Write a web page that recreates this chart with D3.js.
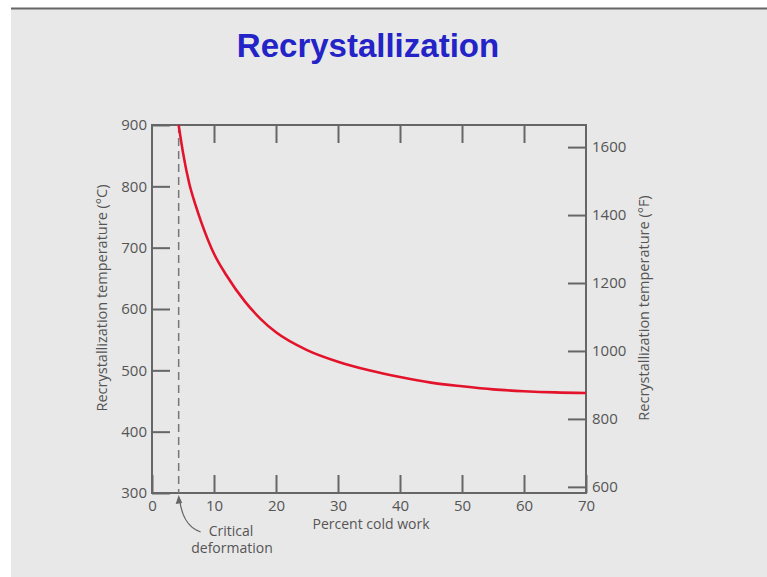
<html>
  <head>
    <meta charset="utf-8">
    <style>
      body { margin: 0; background: #fff; }
      .axis text {
        font-family: "Open Sans";
        font-size: 15px;
        fill: #555;
      }
      .axis line { stroke: #666; stroke-width: 2px; }
      .label {
        font-family: "Open Sans";
        font-size: 14px;
        fill: #555;
      }
    </style>
  </head>
<body>
  <svg width="767" height="577"></svg>
  <script src="https://d3js.org/d3.v7.min.js"></script>
  <script>
    // values
    var coldWork = [4.3, 5, 6, 7, 8, 10, 12, 15, 17.5, 20, 25, 30, 35, 40, 45, 50, 55, 60, 65, 70];
    var recrystTemp = [900, 855, 805, 770, 740, 690, 655, 612, 584, 562, 533, 514, 500, 489, 480, 474, 469, 466, 464, 463];
    var xTicks = [0, 10, 20, 30, 40, 50, 60, 70];
    var cTicks = [300, 400, 500, 600, 700, 800, 900];
    var fTicks = [600, 800, 1000, 1200, 1400, 1600];
    var criticalDeformation = 4.3;

    var svg = d3.select("svg");

    // slide background
    svg.append("rect").attr("x", 11).attr("y", 9).attr("width", 756).attr("height", 568).attr("fill", "#e8e8e8");
    svg.append("line").attr("x1", 11).attr("x2", 767).attr("y1", 8.5).attr("y2", 8.5)
      .attr("stroke", "#666").attr("stroke-width", 2);

    svg.append("text")
      .attr("x", 368).attr("y", 57)
      .attr("text-anchor", "middle")
      .style("font-family", "Liberation Sans, Arial")
      .style("font-weight", "bold")
      .style("font-size", "33px")
      .style("fill", "#2323c8")
      .text("Recrystallization");

    var plot = {left: 152, right: 586, top: 125, bottom: 493};

    var x = d3.scaleLinear().domain([0, 70]).range([plot.left, plot.right]);
    var y = d3.scaleLinear().domain([300, 900]).range([plot.bottom, plot.top]);
    var yF = d3.scaleLinear().domain([582, 1665]).range([plot.bottom, plot.top]);

    // frame
    svg.append("rect")
      .attr("x", plot.left).attr("y", plot.top)
      .attr("width", plot.right - plot.left).attr("height", plot.bottom - plot.top)
      .attr("fill", "none").attr("stroke", "#666").attr("stroke-width", 2);

    svg.append("g")
      .attr("class", "axis")
      .attr("transform", "translate(0," + plot.bottom + ")")
      .call(d3.axisBottom(x).tickValues(xTicks).tickSize(-18).tickPadding(7));

    svg.append("g")
      .attr("class", "axis")
      .attr("transform", "translate(0," + plot.top + ")")
      .call(d3.axisTop(x).tickValues(xTicks.slice(1, -1)).tickSize(-18).tickFormat(""));

    svg.append("g")
      .attr("class", "axis")
      .attr("transform", "translate(" + plot.left + ",0)")
      .call(d3.axisLeft(y).tickValues(cTicks).tickSize(-18).tickPadding(5));

    svg.append("g")
      .attr("class", "axis")
      .attr("transform", "translate(" + plot.right + ",0)")
      .call(d3.axisRight(yF).tickValues(fTicks).tickSize(-18).tickPadding(6).tickFormat(d3.format("d")));

    svg.selectAll(".axis .domain").remove();

    // critical deformation
    svg.append("line")
      .attr("x1", x(criticalDeformation)).attr("x2", x(criticalDeformation))
      .attr("y1", plot.top).attr("y2", plot.bottom)
      .attr("stroke", "#777").attr("stroke-width", 1.5)
      .attr("stroke-dasharray", "8,5");

    var line = d3.line()
      .x(function(d, i) { return x(coldWork[i]); })
      .y(function(d) { return y(d); })
      .curve(d3.curveMonotoneX);

    svg.append("path")
      .datum(recrystTemp)
      .attr("fill", "none")
      .attr("stroke", "#e3132b")
      .attr("stroke-width", 2.6)
      .attr("d", line);

    // arrow
    var ax = x(criticalDeformation);
    svg.append("path")
      .attr("d", "M" + (ax + 1) + ",500 C" + (ax + 3) + ",515 " + (ax + 8) + ",527 " + (ax + 22) + ",532")
      .attr("fill", "none").attr("stroke", "#666").attr("stroke-width", 1.3);
    svg.append("path")
      .attr("d", "M" + ax + ",495 L" + (ax - 3) + ",504 L" + (ax + 3.5) + ",503 Z")
      .attr("fill", "#666");

    svg.append("text").attr("class", "label")
      .attr("x", 231).attr("y", 536).attr("text-anchor", "middle").text("Critical");
    svg.append("text").attr("class", "label")
      .attr("x", 232).attr("y", 553).attr("text-anchor", "middle").text("deformation");

    svg.append("text").attr("class", "label")
      .attr("x", 371).attr("y", 529).attr("text-anchor", "middle").text("Percent cold work");

    svg.append("text").attr("class", "label")
      .attr("transform", "translate(107,298) rotate(-90)")
      .attr("text-anchor", "middle")
      .style("font-size", "14.5px")
      .text("Recrystallization temperature (\u00b0C)");

    svg.append("text").attr("class", "label")
      .attr("transform", "translate(649,308) rotate(-90)")
      .attr("text-anchor", "middle")
      .style("font-size", "14.5px")
      .text("Recrystallization temperature (\u00b0F)");
  </script>
</body>
</html>
